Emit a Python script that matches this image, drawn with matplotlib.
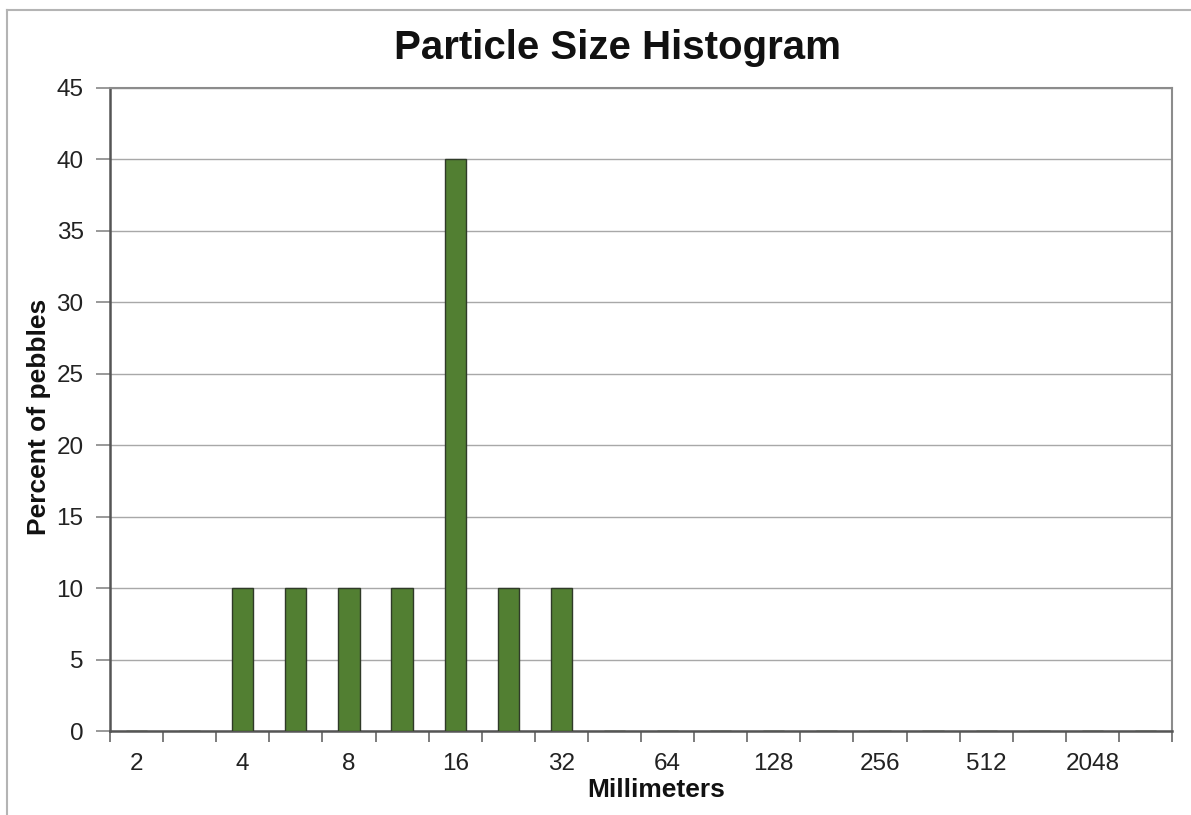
import numpy as np
import matplotlib
matplotlib.use("Agg")
import matplotlib.pyplot as plt
from matplotlib.lines import Line2D

plt.rcParams['font.family'] = ['Liberation Sans', 'DejaVu Sans']

# size classes (mm), only every other one is labelled on the axis
size_labels = ["2", "", "4", "", "8", "", "16", "", "32", "",
               "64", "", "128", "", "256", "", "512", "", "2048", ""]
percent_pebbles = [0, 0, 10, 10, 10, 10, 40, 10, 10, 0,
                   0, 0, 0, 0, 0, 0, 0, 0, 0, 0]

fig = plt.figure(figsize=(11.91, 8.15), dpi=100)
W, H = 1191, 815
ax = fig.add_axes([110 / W, (H - 731) / H, (1172 - 110) / W, (731 - 88) / H])

x = np.arange(len(size_labels))
ax.bar(x, percent_pebbles, width=0.4, color="#527f32", edgecolor="#2f3a28",
       linewidth=1.0, zorder=3)

ax.set_xlim(-0.5, len(size_labels) - 0.5)
ax.set_ylim(0, 45)
ax.set_yticks(np.arange(0, 46, 5))
ax.yaxis.grid(True, color="#a8a8a8", linewidth=1.0, zorder=0)

# category labels centred, tick marks on the category boundaries
ax.set_xticks(x)
ax.set_xticklabels(size_labels)
ax.tick_params(axis="x", which="major", length=0, pad=16, labelsize=17.5,
               labelcolor="#222222")
ax.set_xticks(np.arange(-0.5, len(size_labels)), minor=True)
ax.tick_params(axis="x", which="minor", length=8, width=1.2, color="#666666")
ax.tick_params(axis="y", length=10, width=1.2, color="#888888", pad=9,
               labelsize=17.5, labelcolor="#222222")

for side in ["left", "bottom"]:
    ax.spines[side].set_color("#555555")
    ax.spines[side].set_linewidth(1.8)
for side in ["top", "right"]:
    ax.spines[side].set_color("#8c8c8c")
    ax.spines[side].set_linewidth(1.5)

fig.text(618 / W, 1 - 48 / H, "Particle Size Histogram", ha="center", va="center",
         fontsize=29, fontweight="bold", color="#111111")
fig.text(656 / W, 1 - 790 / H, "Millimeters", ha="center", va="center",
         fontsize=19, fontweight="bold", color="#111111")
fig.text(39 / W, 1 - 417 / H, "Percent of pebbles", ha="center", va="center",
         rotation=90, fontsize=19, fontweight="bold", color="#111111")

# outer chart frame (cropped at the right and bottom)
fx, fy = 7 / W, 1 - 10 / H
fig.add_artist(Line2D([fx, fx], [0, fy], transform=fig.transFigure,
                      color="#b4b4b4", linewidth=1.5))
fig.add_artist(Line2D([fx, 1], [fy, fy], transform=fig.transFigure,
                      color="#b4b4b4", linewidth=1.5))

fig.savefig("out.png", dpi=100)
